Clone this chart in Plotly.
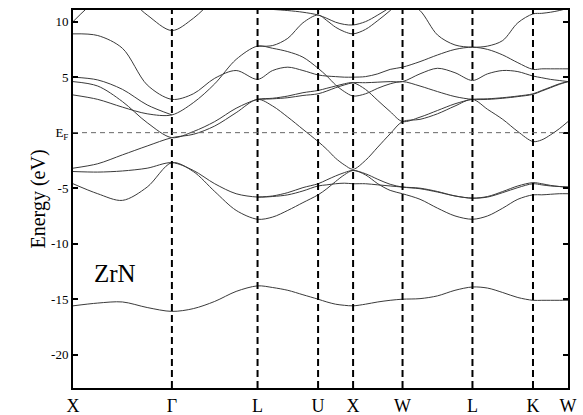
import plotly.graph_objects as go

# ---------------- data ----------------
kpoint_labels = ["X", "Γ", "L", "U", "X", "W", "L", "K", "W"]
segment_lengths = [1.0, 0.866, 0.612, 0.354, 0.5, 0.707, 0.612, 0.354]
sample_fracs = [0.0, 0.25, 0.5, 0.75]

ytick_vals = [10, 5, 0, -5, -10, -15, -20]
ytick_text = ["10", "5", "E<sub>F</sub>", "-5", "-10", "-15", "-20"]

N = None
# energies (eV) at 33 k samples: X-Γ (5 values) then 4 per following segment
band_n2s = [-15.6, -15.35, -15.25, -15.75, -16.1,
            -15.85, -15.2, -14.3, -13.8,
            -13.95, -14.2, -14.6, -15.0,
            -15.25, -15.45, -15.55, -15.6,
            -15.45, -15.25, -15.1, -15.0,
            -14.95, -14.7, -14.2, -13.9,
            -14.0, -14.4, -14.85, -15.1,
            -15.1, -15.1, -15.1, -15.1]
band_p1 = [-4.6, -5.5, -6.1, -4.9, -2.7,
           -3.5, -5.3, -7.0, -7.8,
           -7.6, -7.0, -6.3, -5.6,
           -5.05, -4.4, -3.8, -3.4,
           -3.8, -4.6, -5.2, -5.5,
           -6.0, -6.8, -7.5, -7.8,
           -7.5, -6.8, -6.0, -5.6,
           -5.6, -5.55, -5.5, -5.5]
band_p2 = [-3.5, -3.55, -3.45, -3.2, -2.7,
           -3.4, -4.6, -5.5, -5.8,
           -5.75, -5.6, -5.25, -4.8,
           -4.7, -4.6, -4.55, -4.6,
           -4.6, -4.7, -4.8, -4.9,
           -5.0, -5.3, -5.7, -5.9,
           -5.8, -5.4, -4.95, -4.6,
           -4.7, -4.8, -4.85, -4.9]
band_p3 = [N, N, N, N, N,
           N, N, N, -5.8,
           -5.7, -5.4, -4.95, -4.6,
           -4.25, -3.9, -3.6, -3.4,
           -3.7, -4.2, -4.65, -4.9,
           -5.05, -5.35, -5.7, -5.9,
           -5.75, -5.3, -4.8, -4.5,
           -4.6, -4.75, -4.85, -4.9]
band_d1 = [-3.2, -2.8, -2.0, -1.2, -0.45,
           -0.15, 0.6, 1.8, 3.0,
           2.4, 1.4, 0.3, -0.8,
           -1.5, -2.3, -2.9, -3.3,
           -2.5, -1.3, -0.1, 1.0,
           1.2, 1.7, 2.4, 3.0,
           2.1, 1.2, 0.1, -0.8,
           -0.65, -0.2, 0.35, 1.0]
band_d2 = [4.6, 4.2, 2.8, 0.9, -0.45,
           0.1, 1.0, 2.2, 3.0,
           3.1, 3.3, 3.6, 3.8,
           4.0, 4.2, 4.4, 4.5,
           3.9, 2.9, 1.9, 1.0,
           1.4, 2.0, 2.6, 3.0,
           3.05, 3.15, 3.3, 3.5,
           3.8, 4.1, 4.4, 4.6]
band_d3 = [3.4, 3.0, 2.3, 1.7, 1.6,
           2.7, 4.4, 6.6, 7.8,
           7.6, 7.3, 6.8, 5.8,
           5.1, 4.3, 3.7, 3.3,
           3.5, 4.0, 4.4, 4.6,
           4.2, 3.7, 3.25, 3.0,
           3.0, 3.1, 3.25, 3.45,
           3.75, 4.05, 4.35, 4.6]
band_d4 = [5.0, 4.75, 3.9, 2.5, 1.6,
           N, N, N, N,
           N, N, N, N,
           N, N, N, N,
           N, N, N, N,
           N, N, N, N,
           N, N, N, N,
           N, N, N, N]
band_d5 = [8.9, 8.75, 7.6, 4.3, 3.0,
           3.5, 4.9, 5.6, 4.8,
           5.6, 5.9, 5.6, 5.2,
           5.1, 5.05, 5.0, 5.0,
           5.05, 5.3, 5.7, 5.9,
           6.4, 7.0, 7.5, 7.7,
           7.5, 7.0, 6.3, 5.7,
           5.75, 5.75, 5.75, 5.75]
band_c1 = [N, N, N, N, N,
           N, N, N, 3.0,
           3.05, 3.15, 3.35, 3.5,
           3.75, 4.05, 4.3, 4.5,
           4.5, 4.55, 4.6, 4.6,
           5.3, 5.8, 5.4, 4.7,
           5.3, 5.6, 5.5, 5.1,
           4.95, 4.8, 4.7, 4.6]
band_c2 = [N, N, N, N, N,
           N, N, N, 7.8,
           7.85, 8.5, 9.9, 10.6,
           10.1, 9.5, 9.1, 8.9,
           9.3, 10.1, 11.0, 12.0,
           11.0, 8.8, 7.9, 7.7,
           7.8, 8.3, 9.9, 10.7,
           10.75, 10.85, 11.0, 11.2]
band_c3 = [N, N, N, N, N,
           N, N, N, 11.2,
           11.1, 11.0, 10.85, 10.6,
           10.3, 9.95, 9.75, 9.7,
           10.0, 10.6, 11.3, 12.2,
           N, N, N, N,
           N, N, N, N,
           N, N, N, N]
band_c4 = [10.0, 12.0, 13.0, N, N,
           N, N, N, N,
           N, N, N, N,
           N, N, N, N,
           N, N, N, N,
           N, N, N, N,
           N, N, N, N,
           N, N, N, N]
band_c5 = [N, 13.5, 12.5, 10.6, 9.2,
           10.3, 12.0, 13.0, N,
           N, N, N, N,
           N, N, N, N,
           N, N, N, N,
           N, N, N, N,
           N, N, N, N,
           N, N, N, N]

bands = [band_n2s, band_p1, band_p2, band_p3, band_d1, band_d2, band_d3,
         band_d4, band_d5, band_c1, band_c2, band_c3, band_c4, band_c5]

# ---------------- k-path geometry ----------------
node_pos = [0.0]
for L in segment_lengths:
    node_pos.append(node_pos[-1] + L)
k_grid = []
for i, L in enumerate(segment_lengths):
    for f in sample_fracs:
        k_grid.append(node_pos[i] + f * L)
k_grid.append(node_pos[-1])

FONT = "Liberation Serif, Times New Roman, serif"

fig = go.Figure()
for b in bands:
    fig.add_trace(go.Scatter(x=k_grid, y=b, mode="lines",
                             line=dict(color="#3a3a3a", width=1, shape="spline", smoothing=0.9),
                             connectgaps=False, showlegend=False, hoverinfo="skip"))

# high-symmetry vertical dashed lines
for p in node_pos[1:-1]:
    fig.add_shape(type="line", xref="x", yref="paper", x0=p, x1=p, y0=0, y1=1,
                  line=dict(color="black", width=2, dash="7px,4px"), layer="above")
# Fermi level
fig.add_shape(type="line", xref="paper", yref="y", x0=0, x1=1, y0=0, y1=0,
              line=dict(color="#666666", width=1, dash="5px,4px"), layer="above")

fig.add_annotation(text="ZrN", xref="x", yref="y", x=0.42, y=-12.7, showarrow=False,
                   font=dict(family=FONT, size=25, color="black"))
fig.add_annotation(text="Energy (eV)", xref="paper", yref="paper", x=-0.097, y=0.5,
                   textangle=-90, showarrow=False,
                   font=dict(family=FONT, size=20, color="black"))

fig.update_xaxes(range=[node_pos[0], node_pos[-1]], tickvals=node_pos, ticktext=kpoint_labels,
                 showgrid=False, zeroline=False, showline=True, linecolor="black", linewidth=2,
                 mirror=True, ticks="", tickfont=dict(family=FONT, size=18, color="black"),
                 automargin=False)
fig.update_yaxes(range=[-23.0, 11.05], tickvals=ytick_vals, ticktext=ytick_text,
                 showgrid=False, zeroline=False, showline=True, linecolor="black", linewidth=2,
                 mirror="ticks", ticks="inside", ticklen=5, tickwidth=1.5, tickcolor="black",
                 tickfont=dict(family=FONT, size=13, color="black"), automargin=False)

fig.update_layout(width=583, height=415, margin=dict(l=73, r=15, t=10, b=27),
                  paper_bgcolor="white", plot_bgcolor="white", showlegend=False)

fig.write_html("out.html", config={"displayModeBar": False},
               post_script="document.body.style.margin='0';document.body.style.overflow='hidden';")
